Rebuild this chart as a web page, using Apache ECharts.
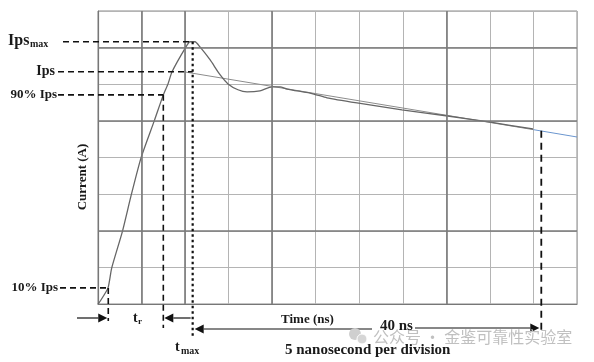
<!DOCTYPE html>
<html><head><meta charset="utf-8">
<script src="https://cdn.jsdelivr.net/npm/echarts@6/dist/echarts.min.js"></script>
<style>html,body{margin:0;padding:0;background:#fff}#c{width:594px;height:362px}</style>
</head><body><div id="c"></div>
<script>
// Time in ns (5 ns per division), current in divisions
const waveT = [0,0.34,1.15,1.57,2.79,3.79,4.94,6.46,7.50,8.04,8.50,10.10,10.56,11.14,11.71,12.86,14.01,14.93,16.07,17.11,18.60,19.98,20.90,21.70,24.68,26.29,29.74,34.90,39.95,44.89,49.94];
const waveI = [0,0.11,0.44,0.98,1.97,2.95,3.99,5.00,5.71,6.01,6.34,7.02,7.16,7.16,7.02,6.67,6.26,6.01,5.85,5.79,5.82,5.93,5.93,5.87,5.74,5.63,5.49,5.30,5.14,4.97,4.78];
const fitT = [9.87, 50.0];
const fitI = [6.34, 4.76];
const fitBlueT = [50.0, 55];
const fitBlueI = [4.76, 4.56];
const levelIpsMax = 7.16, levelIps = 6.34, level90 = 5.71, level10 = 0.44;
const t10 = 1.18, t90 = 7.5, tMax = 10.87, t40 = 50.9, i40 = 4.73;
const xTicks = [0,5,10,15,20,25,30,35,40,45,50,55];
const yTicks = [0,1,2,3,4,5,6,7,8];
const darkX = [5,10,20,40];
const darkY = [2,5,7];

const chart = echarts.init(document.getElementById('c'));
const serif = '"Liberation Serif","DejaVu Serif",serif';
const zip = (a,b)=>a.map((v,i)=>[v,b[i]]);
chart.setOption({
  animation:false,
  grid:{left:98,right:17,top:11,bottom:58,show:true,borderColor:'#8a8a8a',borderWidth:1},
  xAxis:{type:'value',min:xTicks[0],max:xTicks[xTicks.length-1],interval:5,
    axisLabel:{show:false},axisTick:{show:false},axisLine:{show:true,lineStyle:{color:'#777',width:1.2}},
    splitLine:{show:true,lineStyle:{color:'#b4b4b4',width:1}}},
  yAxis:{type:'value',min:yTicks[0],max:yTicks[yTicks.length-1],interval:1,
    axisLabel:{show:false},axisTick:{show:false},axisLine:{show:true,lineStyle:{color:'#777',width:1.2}},
    splitLine:{show:true,lineStyle:{color:'#b4b4b4',width:1}}},
  series:[
    {type:'line',data:[],silent:true,
     markLine:{symbol:'none',silent:true,label:{show:false},lineStyle:{color:'#7a7a7a',width:1.6,type:'solid'},
       data:darkX.map(x=>({xAxis:x})).concat(darkY.map(y=>({yAxis:y})))}},
    {type:'line',data:zip(fitT,fitI),showSymbol:false,lineStyle:{color:'#8c8c8c',width:1},z:3},
    {type:'line',data:zip(fitBlueT,fitBlueI),showSymbol:false,lineStyle:{color:'#6b96cf',width:1},z:3},
    {type:'line',data:zip(waveT,waveI),showSymbol:false,smooth:0.2,lineStyle:{color:'#666',width:1.3},z:4}
  ]
});

const P = (t,v)=>chart.convertToPixel({gridIndex:0},[t,v]);
const g = [];
const dash = [6,4], dot=[2.5,3];
function hline(x1,x2,y,ld){g.push({type:'line',shape:{x1:x1,y1:y,x2:x2,y2:y},style:{stroke:'#111',lineWidth:1.6,lineDash:ld||dash},z:10});}
function vline(x,y1,y2,ld,w){g.push({type:'line',shape:{x1:x,y1:y1,x2:x,y2:y2},style:{stroke:'#111',lineWidth:w||1.6,lineDash:ld||dash},z:10});}
function arrow(xTail,xTip,y){
  const dir = xTip>xTail?1:-1;
  const base = xTip-dir*9;
  g.push({type:'line',shape:{x1:xTail,y1:y,x2:base,y2:y},style:{stroke:'#111',lineWidth:1.2},z:10});
  g.push({type:'polygon',shape:{points:[[xTip,y],[base,y-4.5],[base,y+4.5]]},style:{fill:'#111'},z:10});
}
function text(x,y,s,size,align,extra){
  g.push(Object.assign({type:'text',x:x,y:y,style:{text:s,font:'bold '+size+'px '+serif,fill:'#1a1a1a',textAlign:align||'left',textVerticalAlign:'middle'},z:11},extra||{}));
}
const yMax = P(0,levelIpsMax)[1], yIps=P(0,levelIps)[1], y90=P(0,level90)[1], y10=P(0,level10)[1];
const x10=P(t10,0)[0], x90=P(t90,0)[0], xMax=P(tMax,0)[0], p40=P(t40,i40);
hline(63,xMax,yMax);
hline(58,xMax,yIps);
hline(58,x90,y90);
hline(60,x10,y10);
vline(x10,y10,321);
vline(x90,y90,328);
vline(xMax,yMax,337,dot,2.2);
vline(p40[0],p40[1],332,[7,5],1.8);
arrow(77,x10-1,318);
arrow(xMax-2,x90+1,318);
arrow(372,xMax+2,329);
arrow(415,p40[0]-2,328);
// labels
text(8,yMax-1,'Ips',16,'left');
text(30,yMax+3,'max',10,'left');
text(55,yIps,'Ips',14,'right');
text(57,y90,'90% Ips',13,'right');
text(58,y10,'10% Ips',13,'right');
text(133,318,'t',14,'left');
text(138,322,'r',9,'left');
text(175,347,'t',14,'left');
text(181,351,'max',10,'left');
text(281,320,'Time (ns)',13,'left');
text(380,326,'40 ns',15,'left');
text(285,350,'5 nanosecond per division',15,'left');
g.push({type:'text',x:83,y:177,rotation:Math.PI/2,style:{text:'Current (A)',font:'bold 13px '+serif,fill:'#1a1a1a',textAlign:'center',textVerticalAlign:'middle'},z:11});
// watermark
g.push({type:'circle',shape:{cx:355,cy:334,r:6},style:{fill:'#cfcfcf'},z:12});
g.push({type:'circle',shape:{cx:362,cy:339,r:5},style:{fill:'#d6d6d6',stroke:'#fff',lineWidth:1},z:12});
g.push({type:'text',x:373,y:337,style:{text:'公众号 · 金鉴可靠性实验室',font:'16px "Noto Sans CJK SC"',fill:'#c0c0c0',textVerticalAlign:'middle'},z:12});
chart.setOption({graphic:g});
</script></body></html>
